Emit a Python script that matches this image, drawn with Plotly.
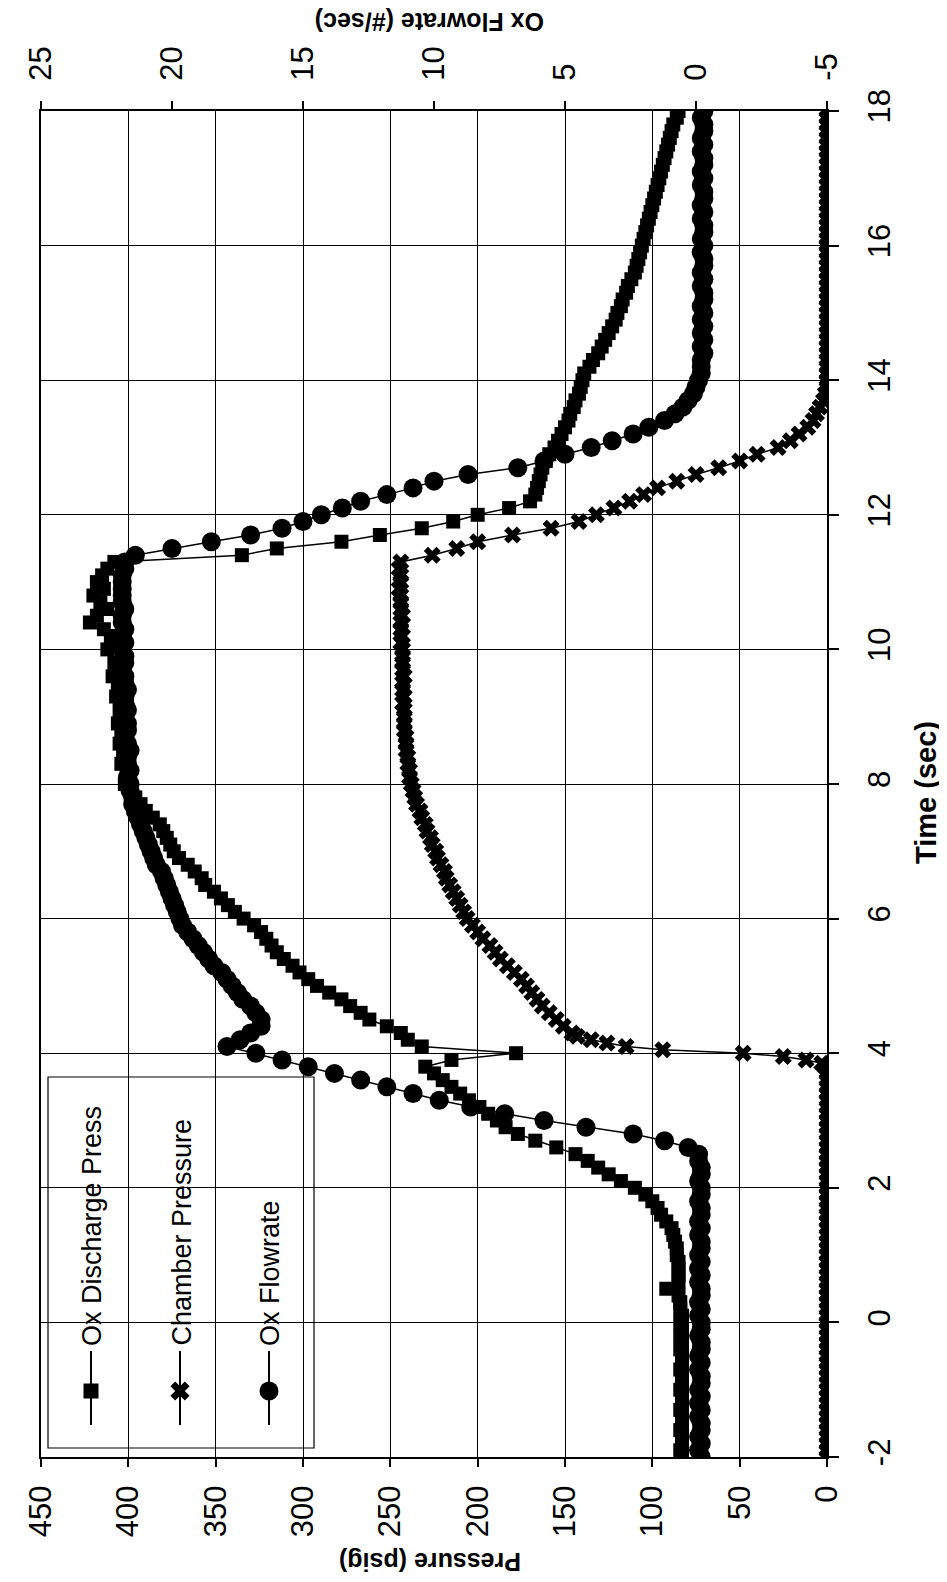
import plotly.graph_objects as go

# ---------------- data ----------------
TIME = [
    -2.0, -1.9, -1.8, -1.7, -1.6, -1.5, -1.4, -1.3, -1.2, -1.1,
    -1.0, -0.9, -0.8, -0.7, -0.6, -0.5, -0.4, -0.3, -0.2, -0.1,
    0.0, 0.1, 0.2, 0.3, 0.4, 0.5, 0.6, 0.7, 0.8, 0.9,
    1.0, 1.1, 1.2, 1.3, 1.4, 1.5, 1.6, 1.7, 1.8, 1.9,
    2.0, 2.1, 2.2, 2.3, 2.4, 2.5, 2.6, 2.7, 2.8, 2.9,
    3.0, 3.1, 3.2, 3.3, 3.4, 3.5, 3.6, 3.7, 3.8, 3.9,
    4.0, 4.1, 4.2, 4.3, 4.4, 4.5, 4.6, 4.7, 4.8, 4.9,
    5.0, 5.1, 5.2, 5.3, 5.4, 5.5, 5.6, 5.7, 5.8, 5.9,
    6.0, 6.1, 6.2, 6.3, 6.4, 6.5, 6.6, 6.7, 6.8, 6.9,
    7.0, 7.1, 7.2, 7.3, 7.4, 7.5, 7.6, 7.7, 7.8, 7.9,
    8.0, 8.1, 8.2, 8.3, 8.4, 8.5, 8.6, 8.7, 8.8, 8.9,
    9.0, 9.1, 9.2, 9.3, 9.4, 9.5, 9.6, 9.7, 9.8, 9.9,
    10.0, 10.1, 10.2, 10.3, 10.4, 10.5, 10.6, 10.7, 10.8, 10.9,
    11.0, 11.1, 11.2, 11.3, 11.4, 11.5, 11.6, 11.7, 11.8, 11.9,
    12.0, 12.1, 12.2, 12.3, 12.4, 12.5, 12.6, 12.7, 12.8, 12.9,
    13.0, 13.1, 13.2, 13.3, 13.4, 13.5, 13.6, 13.7, 13.8, 13.9,
    14.0, 14.1, 14.2, 14.3, 14.4, 14.5, 14.6, 14.7, 14.8, 14.9,
    15.0, 15.1, 15.2, 15.3, 15.4, 15.5, 15.6, 15.7, 15.8, 15.9,
    16.0, 16.1, 16.2, 16.3, 16.4, 16.5, 16.6, 16.7, 16.8, 16.9,
    17.0, 17.1, 17.2, 17.3, 17.4, 17.5, 17.6, 17.7, 17.8, 17.9,
    18.0,
]

OX_DISCHARGE_PRESS = [
    83, 84, 83, 83, 84, 83, 83, 84, 83, 83,
    84, 83, 83, 84, 83, 83, 84, 83, 84, 83,
    84, 83, 84, 84, 85, 92, 85, 85, 85, 85,
    86, 86, 87, 88, 89, 92, 95, 97, 100, 104,
    110, 118, 125, 131, 137, 144, 155, 167, 177, 184,
    189, 194, 199, 205, 210, 215, 220, 225, 230, 215,
    178, 232, 240, 244, 252, 262, 267, 273, 278, 285,
    292, 297, 302, 306, 311, 315, 318, 321, 324, 328,
    334, 339, 343, 347, 351, 356, 358, 362, 366, 371,
    374, 376, 378, 380, 382, 386, 390, 393, 396, 398,
    402, 399, 401, 404, 400, 403, 405, 401, 404, 406,
    402, 405, 403, 407, 404, 406, 409, 405, 408, 404,
    412, 407, 410, 414, 422, 418, 412, 416, 420, 414,
    418, 415, 412, 408, 335, 315, 278, 256, 232, 214,
    200, 182, 170, 167, 166, 165, 164, 163, 161, 159,
    156, 154, 152, 150, 148, 147, 145, 144, 142, 141,
    140, 139, 136, 134, 131, 129, 127, 125, 123, 121,
    120, 118, 117, 115, 114, 112, 110, 109, 108, 107,
    106, 105, 104, 103, 102, 101, 100, 99, 98, 97,
    96, 95, 94, 93, 92, 91, 90, 89, 88, 86,
    85,
]

CHAMBER_PRESSURE = [
    0, 0, 0, 0, 0, 0, 0, 0, 0, 0,
    0, 0, 0, 0, 0, 0, 0, 0, 0, 0,
    0, 0, 0, 0, 0, 0, 0, 0, 0, 0,
    0, 0, 0, 0, 0, 0, 0, 0, 0, 0,
    0, 0, 0, 0, 0, 0, 0, 0, 0, 0,
    0, 0, 0, 0, 0, 0, 0, 0, 1, 12,
    48, 115, 135, 146, 151, 155, 159, 163, 166, 169,
    172, 175, 179, 183, 187, 190, 193, 197, 200, 203,
    206, 208, 210, 212, 214, 216, 218, 219, 221, 223,
    224, 226, 227, 229, 230, 232, 233, 235, 236, 237,
    238, 239, 239, 240, 240, 241, 241, 241, 242, 242,
    242, 242, 243, 242, 243, 243, 242, 243, 243, 243,
    243, 244, 243, 244, 244, 243, 244, 244, 244, 245,
    244, 244, 245, 244, 226, 212, 200, 180, 158, 142,
    132, 122, 113, 105, 97, 86, 75, 62, 50, 40,
    28, 21, 16, 11, 8, 6, 4, 2, 1, 0,
    0, 0, 0, 0, 0, 0, 0, 0, 0, 0,
    0, 0, 0, 0, 0, 0, 0, 0, 0, 0,
    0, 0, 0, 0, 0, 0, 0, 0, 0, 0,
    0, 0, 0, 0, 0, 0, 0, 0, 0, 0,
    0,
]
# extra chamber samples during the fast light-off
CHAMBER_EXTRA_TIME = [3.85, 3.95, 4.05, 4.15, 4.25]
CHAMBER_EXTRA_PRESS = [3, 25, 94, 126, 143]

OX_FLOWRATE = [
    -0.2, -0.1, -0.2, -0.1, -0.2, -0.2, -0.1, -0.2, -0.1, -0.2,
    -0.1, -0.2, -0.2, -0.1, -0.2, -0.1, -0.2, -0.2, -0.1, -0.2,
    -0.2, -0.1, -0.2, -0.1, -0.2, -0.2, -0.1, -0.2, -0.1, -0.2,
    -0.1, -0.2, -0.2, -0.1, -0.2, -0.1, -0.2, -0.2, -0.1, -0.2,
    -0.2, -0.1, -0.2, -0.2, -0.1, -0.1, 0.3, 1.2, 2.4, 4.2,
    5.8, 7.3, 8.6, 9.8, 10.8, 11.8, 12.8, 13.8, 14.8, 15.8,
    16.8, 17.9, 17.4, 17.0, 16.6, 16.6, 16.8, 17.0, 17.3, 17.5,
    17.7, 17.9, 18.1, 18.4, 18.6, 18.8, 19.0, 19.2, 19.4, 19.6,
    19.7, 19.8, 19.9, 20.0, 20.1, 20.2, 20.3, 20.4, 20.6, 20.7,
    20.8, 20.9, 21.0, 21.1, 21.2, 21.3, 21.4, 21.5, 21.5, 21.6,
    21.6, 21.7, 21.6, 21.7, 21.7, 21.6, 21.7, 21.8, 21.7, 21.7,
    21.8, 21.7, 21.8, 21.8, 21.7, 21.8, 21.8, 21.9, 21.8, 21.8,
    21.9, 21.8, 21.9, 21.8, 21.9, 21.9, 21.8, 21.9, 21.9, 21.9,
    21.9, 21.9, 21.8, 21.8, 21.4, 20.0, 18.5, 17.0, 15.8, 15.0,
    14.3, 13.5, 12.8, 11.8, 10.8, 10.0, 8.7, 6.8, 5.8, 5.0,
    4.0, 3.2, 2.4, 1.8, 1.2, 0.8, 0.5, 0.3, 0.1, 0.0,
    -0.1, -0.2, -0.2, -0.2, -0.3, -0.2, -0.3, -0.2, -0.3, -0.2,
    -0.3, -0.2, -0.3, -0.3, -0.2, -0.3, -0.2, -0.3, -0.3, -0.2,
    -0.3, -0.2, -0.3, -0.3, -0.2, -0.3, -0.2, -0.3, -0.3, -0.2,
    -0.3, -0.2, -0.3, -0.3, -0.2, -0.3, -0.2, -0.3, -0.3, -0.2,
    -0.3,
]

PRESSURE_TICKS = [0, 50, 100, 150, 200, 250, 300, 350, 400, 450]
FLOW_TICKS = [-5, 0, 5, 10, 15, 20, 25]
TIME_TICKS = [-2, 0, 2, 4, 6, 8, 10, 12, 14, 16, 18]

SERIES_NAMES = ["Ox Discharge Press", "Chamber Pressure", "Ox Flowrate"]

# ---------------- layout constants ----------------
W, H = 947, 1582
PL, PR, PT, PB = 33, 819, 103, 1449          # plot box in pixels
FONT = "Liberation Sans, Arial, sans-serif"


def px_x(p):
    return (p - PL) / (PR - PL)


def px_y(p):
    return (PB - p) / (PB - PT)


def labels(vals):
    return [str(v) for v in vals]          # plain hyphen minus, as in the original


# chamber series with the extra samples merged in time order
ch_pairs = sorted(zip(TIME + CHAMBER_EXTRA_TIME, CHAMBER_PRESSURE + CHAMBER_EXTRA_PRESS))
ch_t = [a for a, b in ch_pairs]
ch_v = [b for a, b in ch_pairs]

fig = go.Figure()

line_style = dict(color="black", width=1.5)

fig.add_trace(go.Scatter(
    x=OX_DISCHARGE_PRESS, y=TIME, mode="lines+markers", name=SERIES_NAMES[0],
    line=line_style, marker=dict(symbol="square", size=14, color="black"),
    xaxis="x", yaxis="y", showlegend=False))
fig.add_trace(go.Scatter(
    x=ch_v, y=ch_t, mode="lines+markers", name=SERIES_NAMES[1],
    line=line_style, marker=dict(symbol="x", size=15, color="black", line=dict(width=0)),
    xaxis="x", yaxis="y", showlegend=False))
fig.add_trace(go.Scatter(
    x=OX_FLOWRATE, y=TIME, mode="lines+markers", name=SERIES_NAMES[2],
    line=line_style, marker=dict(symbol="circle", size=19, color="black"),
    xaxis="x2", yaxis="y", showlegend=False))

# ---- rotated legend (keys drawn on a hidden pixel-space axis pair) ----
KEY_X = [83, 172, 261]
KEY_LINE_Y = [1343, 1417]
KEY_MARK_Y = 1383
KEY_SYMBOLS = [("square", 15), ("x", 17), ("circle", 19)]
for kx, (sym, sz) in zip(KEY_X, KEY_SYMBOLS):
    fig.add_trace(go.Scatter(x=[kx, kx], y=KEY_LINE_Y, mode="lines",
                             line=dict(color="black", width=2),
                             xaxis="x3", yaxis="y3", showlegend=False, hoverinfo="skip"))
    fig.add_trace(go.Scatter(x=[kx], y=[KEY_MARK_Y], mode="markers",
                             marker=dict(symbol=sym, size=sz, color="black", line=dict(width=0)),
                             xaxis="x3", yaxis="y3", showlegend=False, hoverinfo="skip"))

annotations = []
for kx, name in zip(KEY_X, SERIES_NAMES):
    annotations.append(dict(
        text=name, x=px_x(kx + 1), y=px_y(1340), xref="paper", yref="paper",
        textangle=-90, xanchor="center", yanchor="bottom", showarrow=False,
        font=dict(family=FONT, size=27, color="black")))

title_font = dict(family=FONT, size=25, color="black")
annotations += [
    dict(text="<b>Pressure (psig)</b>", x=px_x(422), y=px_y(1554), xref="paper", yref="paper",
         textangle=180, showarrow=False, xanchor="center", yanchor="middle", font=title_font),
    dict(text="<b>Ox Flowrate (#/sec)</b>", x=px_x(422), y=px_y(14), xref="paper", yref="paper",
         textangle=180, showarrow=False, xanchor="center", yanchor="middle", font=title_font),
    dict(text="<b>Time (sec)</b>", x=px_x(918), y=px_y(785), xref="paper", yref="paper",
         textangle=-90, showarrow=False, xanchor="center", yanchor="middle",
         font=dict(family=FONT, size=29, color="black")),
]

shapes = [dict(type="rect", xref="paper", yref="paper",
               x0=px_x(40), x1=px_x(306), y0=px_y(1440), y1=px_y(1069),
               line=dict(color="black", width=1.2), fillcolor="white", layer="between")]

tick_font = dict(family=FONT, size=31, color="black")
common = dict(ticks="outside", tickcolor="black", tickwidth=1.5, showline=True,
              linecolor="black", linewidth=2, zeroline=False, tickangle=-90,
              tickfont=tick_font)

fig.update_layout(
    width=W, height=H,
    margin=dict(l=PL, r=W - PR, t=PT, b=H - PB, pad=0),
    paper_bgcolor="white", plot_bgcolor="white",
    font=dict(family=FONT, color="black"),
    showlegend=False,
    xaxis=dict(range=[450, 0], tickvals=PRESSURE_TICKS, ticktext=labels(PRESSURE_TICKS),
               ticklen=8, showgrid=True, gridcolor="black", gridwidth=1,
               ticklabelstandoff=6, **common),
    xaxis2=dict(range=[25, -5], tickvals=FLOW_TICKS, ticktext=labels(FLOW_TICKS),
                overlaying="x", side="top", anchor="y", ticklen=8, showgrid=False,
                ticklabelstandoff=14, **common),
    yaxis=dict(range=[-2, 18], tickvals=TIME_TICKS, ticktext=labels(TIME_TICKS),
               side="right", ticklen=10, showgrid=True, gridcolor="black", gridwidth=1,
               mirror=True, ticklabelstandoff=14, **common),
    xaxis3=dict(range=[PL, PR], overlaying="x", anchor="y3", visible=False, fixedrange=True),
    yaxis3=dict(range=[PB, PT], overlaying="y", anchor="x3", visible=False, fixedrange=True),
    annotations=annotations,
    shapes=shapes,
)

fig.write_html("out.html")
